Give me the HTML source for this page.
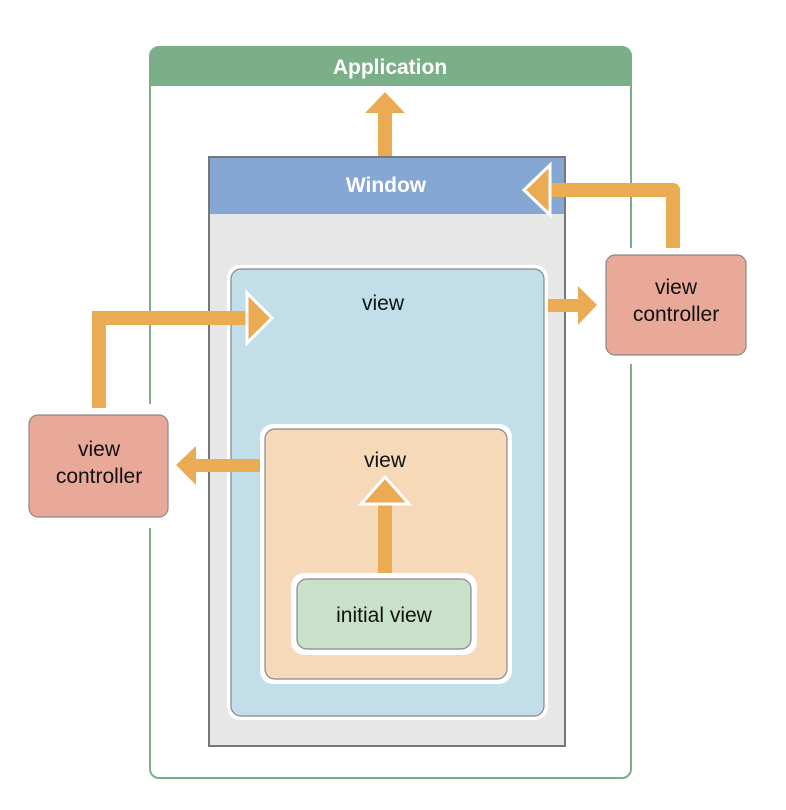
<!DOCTYPE html>
<html><head><style>body{margin:0;background:#fff}svg{display:block}text{font-family:"Liberation Sans",sans-serif}</style></head><body>
<svg width="786" height="810" viewBox="0 0 786 810">
<rect x="150" y="47" width="481" height="731" rx="9" fill="#fff" stroke="#7aaf88" stroke-width="2"/>
<path d="M150 86 V56 a9 9 0 0 1 9 -9 H622 a9 9 0 0 1 9 9 V86 Z" fill="#7aaf88"/>
<text x="390" y="74" font-size="21" font-weight="bold" fill="#fff" text-anchor="middle">Application</text>
<rect x="144" y="404" width="12" height="124" fill="#fff"/>
<rect x="625" y="248" width="12" height="116" fill="#fff"/>
<rect x="209" y="157" width="356" height="589" fill="#e6e7e6" stroke="#777" stroke-width="2"/>
<rect x="210" y="158" width="354" height="56" fill="#86a7d4"/>
<text x="386" y="192" font-size="21" font-weight="bold" fill="#fff" text-anchor="middle">Window</text>
<rect x="227" y="265" width="321" height="455" rx="13" fill="#fff"/>
<rect x="231" y="269" width="313" height="447" rx="10" fill="#c2dfe9" stroke="#888" stroke-width="1.2"/>
<text x="383" y="310" font-size="21" fill="#111" text-anchor="middle">view</text>
<rect x="260" y="424" width="252" height="260" rx="13" fill="#fff"/>
<rect x="265" y="429" width="242" height="250" rx="10" fill="#f6d9b9" stroke="#888" stroke-width="1.2"/>
<text x="385" y="467" font-size="21" fill="#111" text-anchor="middle">view</text>
<rect x="291" y="573" width="186" height="82" rx="13" fill="#fff"/>
<rect x="297" y="579" width="174" height="70" rx="10" fill="#c8e1c8" stroke="#888" stroke-width="1.2"/>
<text x="384" y="622" font-size="21" fill="#111" text-anchor="middle">initial view</text>
<rect x="29" y="415" width="139" height="102" rx="9" fill="#e8a998" stroke="#888" stroke-width="1.2"/>
<text x="99" y="456" font-size="21" fill="#111" text-anchor="middle">view</text>
<text x="99" y="483" font-size="21" fill="#111" text-anchor="middle">controller</text>
<rect x="606" y="255" width="140" height="100" rx="9" fill="#e8a998" stroke="#888" stroke-width="1.2"/>
<text x="676" y="294" font-size="21" fill="#111" text-anchor="middle">view</text>
<text x="676" y="321" font-size="21" fill="#111" text-anchor="middle">controller</text>
<g fill="#ebab52">
<rect x="378" y="110" width="14" height="46"/>
<polygon points="365,113 385,92 405,113"/>
<rect x="666" y="188" width="14" height="60"/>
<path d="M545 183 H673 a7 7 0 0 1 7 7 V197 H545 Z"/>
<polygon points="550,165 524,190 550,215" stroke="#fff" stroke-width="3"/>
<rect x="92" y="318" width="14" height="90"/>
<rect x="92" y="311" width="160" height="14"/>
<polygon points="247,293 272,318 247,343" stroke="#fff" stroke-width="3"/>
<rect x="548" y="299" width="32" height="13"/>
<polygon points="578,286 597,305 578,325"/>
<rect x="194" y="459" width="66" height="13"/>
<polygon points="196,446 176,465 196,485"/>
<rect x="378" y="500" width="14" height="73"/>
<polygon points="361,504 385,477 409,504" stroke="#fff" stroke-width="3"/>
</g>
</svg>
</body></html>
